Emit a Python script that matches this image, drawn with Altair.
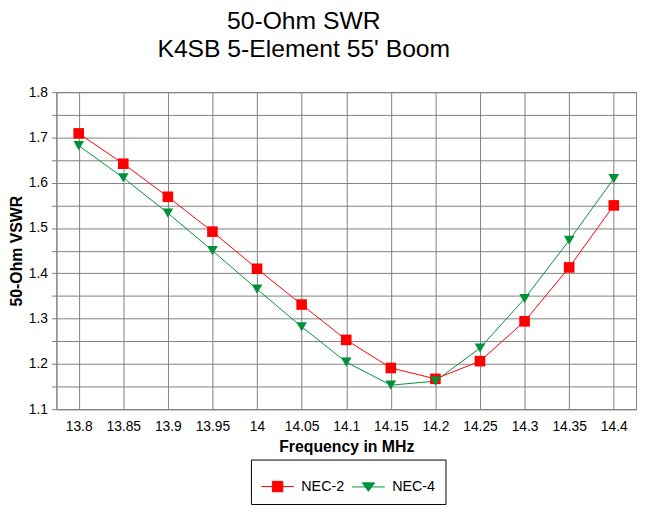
import altair as alt
import pandas as pd

freqs = ["13.8", "13.85", "13.9", "13.95", "14", "14.05", "14.1",
         "14.15", "14.2", "14.25", "14.3", "14.35", "14.4"]
nec2 = [1.709, 1.642, 1.569, 1.492, 1.410, 1.331, 1.253,
        1.191, 1.167, 1.206, 1.294, 1.413, 1.550]
nec4 = [1.682, 1.611, 1.533, 1.450, 1.365, 1.282, 1.204,
        1.153, 1.162, 1.235, 1.344, 1.473, 1.609]
series = ["NEC-2", "NEC-4"]
colors = ["#ff0000", "#00913a"]
shapes = ["square", "triangle-down"]
legend_shapes = ["M-1,0H1M-0.32,-0.32H0.32V0.32H-0.32Z",
                 "M-1,0H1M-0.38,-0.25H0.38L0,0.27Z"]
title_lines = ["50-Ohm SWR", "K4SB 5-Element 55' Boom"]
y_ticks = [1.1, 1.15, 1.2, 1.25, 1.3, 1.35, 1.4, 1.45, 1.5, 1.55, 1.6,
           1.65, 1.7, 1.75, 1.8]

rows = []
for name, vals in zip(series, [nec2, nec4]):
    for f, v in zip(freqs, vals):
        rows.append({"freq": f, "swr": v, "series": name})
df = pd.DataFrame(rows)

FONT = "Liberation Sans"
GRID = "#808080"

legend = alt.Legend(
    title=None, orient="none", legendX=197, legendY=372,
    direction="horizontal", strokeColor="black", fillColor="white",
    padding=10, labelFont=FONT, labelFontSize=14.5, labelColor="black",
    symbolSize=1089, symbolOpacity=1, symbolStrokeWidth=1,
    labelOffset=7, columnPadding=5,
)

x = alt.X("freq:O", sort=freqs,
          scale=alt.Scale(type="point", padding=0.5, domain=freqs),
          axis=alt.Axis(title="Frequency in MHz", labelAngle=0, ticks=False,
                        labelFont=FONT, labelFontSize=14, labelColor="black",
                        labelPadding=11, titleFont=FONT, titleFontSize=16,
                        titleFontWeight="bold", titleColor="black",
                        titlePadding=5, grid=True, gridColor=GRID,
                        gridOpacity=1, domainColor=GRID))
y = alt.Y("swr:Q",
          scale=alt.Scale(domain=[1.1, 1.8], nice=False, zero=False),
          axis=alt.Axis(title="50-Ohm VSWR", values=y_ticks,
                        labelExpr="round(datum.value*100) % 10 == 0 ? format(datum.value, '.1f') : ''",
                        labelFont=FONT, labelFontSize=14, labelColor="black",
                        tickSize=5, tickColor=GRID, labelPadding=4,
                        titleFont=FONT, titleFontSize=16, titleFontWeight="bold",
                        titleColor="black", titlePadding=4, grid=True,
                        gridColor=GRID, gridOpacity=1, domainColor=GRID))
color_scale = alt.Scale(domain=series, range=colors)

base = alt.Chart(df)
lines = base.mark_line(strokeWidth=1).encode(
    x=x, y=y, color=alt.Color("series:N", scale=color_scale, legend=None))
points = base.mark_point(filled=True, size=115, opacity=1).encode(
    x=x, y=y,
    color=alt.Color("series:N", scale=color_scale, legend=None),
    shape=alt.Shape("series:N", scale=alt.Scale(domain=series, range=shapes),
                    legend=None))
key = base.mark_point(opacity=0, size=1089, strokeWidth=1).encode(
    x=x, y=y,
    fill=alt.Fill("series:N", scale=color_scale, legend=legend),
    stroke=alt.Stroke("series:N", scale=color_scale, legend=legend),
    shape=alt.Shape("series:N",
                    scale=alt.Scale(domain=series, range=legend_shapes),
                    legend=legend))

chart = alt.layer(lines, points, key).resolve_scale(
    color="independent", shape="independent", fill="independent",
    stroke="independent"
).properties(
    width=587, height=321,
    title=alt.TitleParams(text=title_lines, font=FONT, fontSize=25,
                          fontWeight="normal", color="black", lineHeight=28,
                          anchor="middle", dx=-43, offset=24),
    autosize=alt.AutoSizeParams(type="none"),
    padding={"left": 49, "top": 82, "right": 6, "bottom": 110},
    background="white",
).configure_view(stroke=GRID, strokeWidth=1)

chart.save("out.html", embed_options={"renderer": "svg", "actions": False})
